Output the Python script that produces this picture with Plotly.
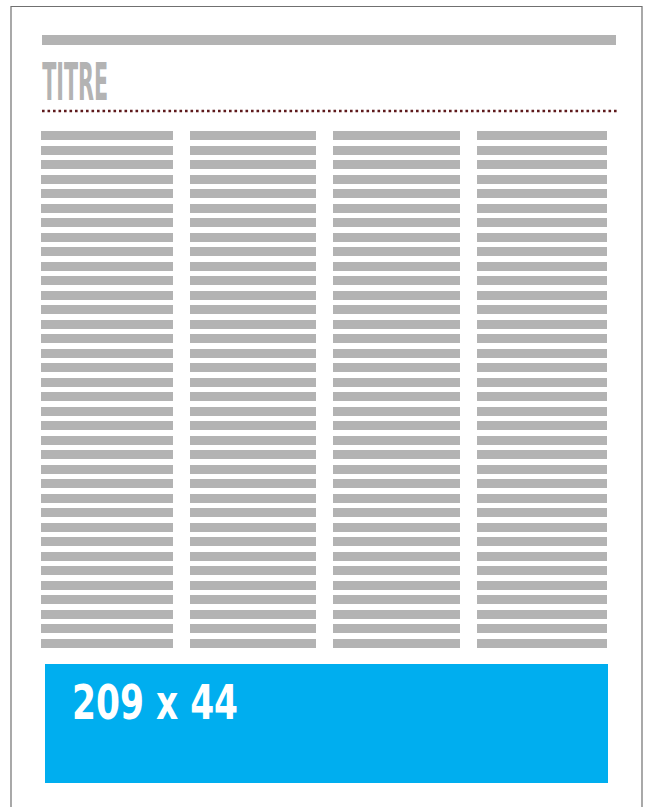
import plotly.graph_objects as go

# ---------------- data ----------------
title_text = "TITRE"
box_label = "209 x 44"

row_ids = list(range(1, 37))  # 36 text lines per column

# relative length of each placeholder text line (1 = full column width)
col_1_lines = [1, 1, 1, 1, 1, 1, 1, 1, 1, 1, 1, 1, 1, 1, 1, 1, 1, 1,
               1, 1, 1, 1, 1, 1, 1, 1, 1, 1, 1, 1, 1, 1, 1, 1, 1, 1]
col_2_lines = [1, 1, 1, 1, 1, 1, 1, 1, 1, 1, 1, 1, 1, 1, 1, 1, 1, 1,
               1, 1, 1, 1, 1, 1, 1, 1, 1, 1, 1, 1, 1, 1, 1, 1, 1, 1]
col_3_lines = [1, 1, 1, 1, 1, 1, 1, 1, 1, 1, 1, 1, 1, 1, 1, 1, 1, 1,
               1, 1, 1, 1, 1, 1, 1, 1, 1, 1, 1, 1, 1, 1, 1, 1, 1, 1]
col_4_lines = [1, 1, 1, 1, 1, 1, 1, 1, 1, 1, 1, 1, 1, 1, 1, 1, 1, 1,
               1, 1, 1, 1, 1, 1, 1, 1, 1, 1, 1, 1, 1, 1, 1, 1, 1, 1]
columns = [col_1_lines, col_2_lines, col_3_lines, col_4_lines]

# ---------------- layout helpers ----------------
W, H = 646, 807


def px(x):
    return x / W


def py(y):
    return 1 - y / H


GREY = "#b3b3b3"
BLUE = "#00aeef"
DOT = "#5e1a1c"
FRAME = "#707070"
NARROW = "Liberation Sans Narrow, DejaVu Sans Condensed, Arial Narrow, sans-serif"

col_spans = [(41, 173), (190, 316), (333, 460), (477, 607)]
row_top, row_pitch = 128.25, 14.51

fig = go.Figure()
for i, vals in enumerate(columns):
    ax = "x" if i == 0 else f"x{i + 1}"
    fig.add_trace(go.Bar(
        x=vals, y=row_ids, orientation="h",
        xaxis=ax, yaxis="y",
        width=0.62,
        marker=dict(color=GREY, line=dict(width=0)),
        showlegend=False, hoverinfo="skip",
    ))

layout_axes = {}
for i, (a, b) in enumerate(col_spans):
    key = "xaxis" if i == 0 else f"xaxis{i + 1}"
    layout_axes[key] = dict(domain=[px(a), px(b)], range=[0, 1], visible=False,
                            fixedrange=True, anchor="y")
n = len(row_ids)
y_bottom_px = row_top + n * row_pitch
layout_axes["yaxis"] = dict(domain=[py(y_bottom_px), py(row_top)],
                            range=[n + 0.5, 0.5], visible=False, fixedrange=True)

shapes = [
    # page frame
    dict(type="rect", xref="paper", yref="paper",
         x0=px(11), x1=px(642), y0=-0.05, y1=py(6.5),
         line=dict(color=FRAME, width=1.2), fillcolor="rgba(0,0,0,0)", layer="below"),
    # kicker bar
    dict(type="rect", xref="paper", yref="paper",
         x0=px(42), x1=px(616), y0=py(45), y1=py(35),
         line=dict(width=0), fillcolor=GREY, layer="below"),
    # dotted rule
    dict(type="line", xref="paper", yref="paper",
         x0=px(42), x1=px(617), y0=py(111), y1=py(111),
         line=dict(color=DOT, width=2.6, dash="2.6px,2.9px")),
    # blue ad box
    dict(type="rect", xref="paper", yref="paper",
         x0=px(45), x1=px(608), y0=py(783), y1=py(664),
         line=dict(width=0), fillcolor=BLUE, layer="below"),
]

annotations = [
    dict(text=title_text, xref="paper", yref="paper", x=px(75), y=py(82),
         xanchor="center", yanchor="middle", align="center", showarrow=False,
         font=dict(family=NARROW, size=51, color=GREY, weight=700)),
    dict(text=box_label, xref="paper", yref="paper", x=px(155), y=py(702),
         xanchor="center", yanchor="middle", align="center", showarrow=False,
         font=dict(family=NARROW, size=48, color="white", weight=700)),
]

fig.update_layout(
    width=W, height=H, autosize=False,
    margin=dict(l=0, r=0, t=0, b=0, pad=0),
    paper_bgcolor="white", plot_bgcolor="white",
    bargap=0, barmode="overlay",
    shapes=shapes, annotations=annotations,
    **layout_axes,
)

# condensed look: squeeze the rendered SVG text to the reference widths
post = """
document.body.style.margin='0';document.body.style.overflow='hidden';
function squeezeText(){
  var lens=[66,166];
  var t=document.querySelectorAll('.annotation-text');
  t.forEach(function(el,i){
    if(i<lens.length){el.setAttribute('textLength',lens[i]);el.setAttribute('lengthAdjust','spacingAndGlyphs');}
  });
}
squeezeText(); setTimeout(squeezeText,30); setTimeout(squeezeText,300);
"""

fig.write_html("out.html", config={"displayModeBar": False, "staticPlot": True},
               post_script=post)
